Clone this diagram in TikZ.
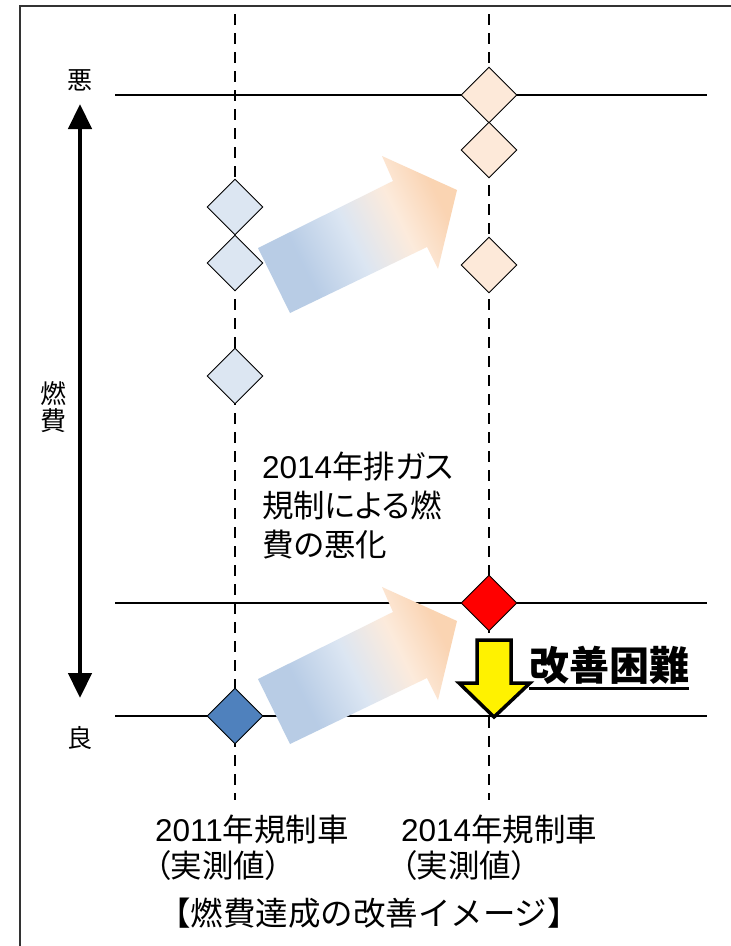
\documentclass[tikz,border=0pt]{standalone}
\usepackage{fontspec}
\setmainfont{Noto Sans CJK JP}[RawFeature=+palt]
\newfontfamily\jpfull{Noto Sans CJK JP}
\newfontfamily\lat{Liberation Sans}
\usetikzlibrary{shapes.geometric,arrows.meta}
\definecolor{dlblue}{HTML}{DCE6F2}
\definecolor{dpeach}{HTML}{FDE9D9}
\definecolor{dblue}{HTML}{4F81BD}
\pgfdeclarehorizontalshading{arrowshade}{100bp}{rgb(0bp)=(0.72,0.8,0.9); rgb(33bp)=(0.72,0.8,0.9); rgb(48bp)=(0.86,0.9,0.95); rgb(62bp)=(0.99,0.92,0.86); rgb(74bp)=(0.98,0.83,0.7); rgb(100bp)=(0.98,0.83,0.7)}
\tikzset{
  dia/.style={diamond, draw=black, line width=0.9pt, minimum width=56pt, minimum height=56pt, inner sep=0pt, aspect=1},
  vdash/.style={line width=2.3pt, dash pattern=on 11pt off 8pt},
  hline/.style={line width=#1, black},
  grarrow/.style={shading=arrowshade, shading angle=26.4},
  lbl/.style={inner sep=0pt},
}
\begin{document}
\begin{tikzpicture}[x=1pt,y=-1pt]
\useasboundingbox (0,0) rectangle (731,946);
\fill[white] (0,0) rectangle (731,946);
% frame
\draw[line width=1.8pt, black!80] (20,960) -- (20,6) -- (745,6);
% dashed verticals
\coordinate (d1t) at (235,14); \coordinate (d1b) at (235,800);
\coordinate (d2t) at (489,14); \coordinate (d2b) at (489,800);
\draw[vdash] (d1t) -- (d1b);
\draw[vdash] (d2t) -- (d2b);
% horizontal lines
\coordinate (h1a) at (115,95);  \coordinate (h1b) at (707,95);
\coordinate (h2a) at (115,603); \coordinate (h2b) at (707,603);
\coordinate (h3a) at (115,716); \coordinate (h3b) at (707,716);
\draw[hline=2pt] (h1a) -- (h1b);
\draw[hline=1.8pt] (h2a) -- (h2b);
\draw[hline=1.2pt] (h3a) -- (h3b);
% gradient arrows
\shade[grarrow] (258,248) -- (393,181) -- (382,156) -- (457,190) -- (438,269) -- (427,247) -- (290,313) -- cycle;
\shade[grarrow] (258,679) -- (393,612) -- (382,587) -- (457,621) -- (438,700) -- (427,678) -- (290,744) -- cycle;
% diamonds
\node[dia, fill=dlblue] (b1) at (235,207) {};
\node[dia, fill=dlblue] (b2) at (235,263) {};
\node[dia, fill=dlblue] (b3) at (235,376) {};
\node[dia, fill=dblue] (b4) at (235,716) {};
\node[dia, fill=dpeach] (p1) at (489,95) {};
\node[dia, fill=dpeach] (p2) at (489,150) {};
\node[dia, fill=dpeach] (p3) at (489,265) {};
\node[dia, fill=red] (r1) at (489,603) {};
% yellow arrow
\draw[line width=3.5pt, fill=yellow, line join=miter] (477,640) -- (511,640) -- (511,683) -- (530,683) -- (494,717) -- (459,683) -- (477,683) -- cycle;
% axis arrow
\coordinate (axt) at (80,104); \coordinate (axb) at (80,698);
\draw[line width=4.5pt, {Triangle[width=23pt,length=25pt]}-{Triangle[width=23pt,length=25pt]}] (axt) -- (axb);
% labels
\node[lbl, font=\fontsize{25}{25}\selectfont] (bad) at (80,80) {悪};
\node[lbl, font=\fontsize{25}{25}\selectfont] (good) at (80,738) {良};
\node[lbl, align=center, font=\fontsize{26}{27}\selectfont] (nenpi) at (53,407) {燃\\費};
\node[lbl, anchor=west, align=left, font=\fontsize{31.5}{39}\selectfont] (mid) at (262,506) {{\lat 2014}年排ガス\\規制による燃\\費の悪化};
\node[lbl, anchor=west, font=\fontsize{40}{40}\selectfont\bfseries] (kz) at (529,665) {改善困難};
\draw[line width=3pt] ([yshift=-8pt]kz.base west) -- ([yshift=-8pt]kz.base east);
\node[lbl, anchor=west, align=left, font=\fontsize{31.5}{36}\selectfont] (c1) at (155,848) {{\lat 2011}年規制車\\（実測値）};
\node[lbl, anchor=west, align=left, font=\fontsize{31.5}{36}\selectfont] (c2) at (401,848) {{\lat 2014}年規制車\\（実測値）};
\node[lbl, font=\fontsize{32.5}{32.5}\selectfont\jpfull] (title) at (369,913) {【燃費達成の改善イメージ】};
\end{tikzpicture}
\end{document}
